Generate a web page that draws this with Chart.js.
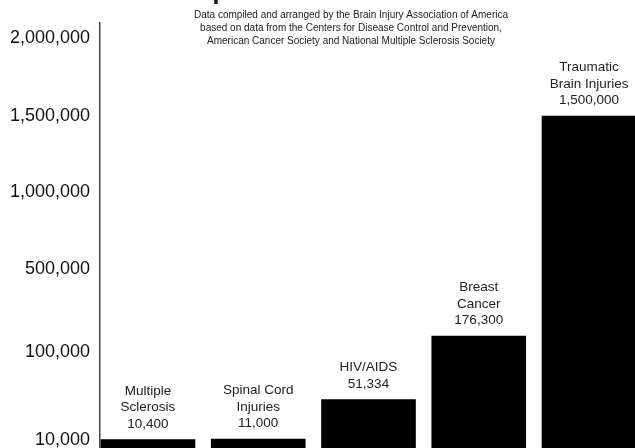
<!DOCTYPE html>
<html>
<head>
<meta charset="utf-8">
<script src="https://cdn.jsdelivr.net/npm/chart.js@4/dist/chart.umd.min.js"></script>
<style>
  html, body { margin: 0; padding: 0; background: #ffffff; overflow: hidden; }
  canvas { display: block; }
</style>
</head>
<body>
<canvas id="c" width="635" height="448"></canvas>
<script>
// ---- data ----
const titleText = "Comparison of Annual Incidence";
const subtitleLines = [
  "Data compiled and arranged by the Brain Injury Association of America",
  "based on data from the Centers for Disease Control and Prevention,",
  "American Cancer Society and National Multiple Sclerosis Society"
];
const categories = [
  ["Multiple", "Sclerosis"],
  ["Spinal Cord", "Injuries"],
  ["HIV/AIDS"],
  ["Breast", "Cancer"],
  ["Traumatic", "Brain Injuries"]
];
const values = [10400, 11000, 51334, 176300, 1500000];
const tickValues = [10000, 100000, 500000, 1000000, 1500000, 2000000];
const tickLabels = ["10,000", "100,000", "500,000", "1,000,000", "1,500,000", "2,000,000"];

const FONT = "'Liberation Sans', Arial, Helvetica, sans-serif";

// ---- piecewise y scale: ticks spaced as in the original graphic ----
class PiecewiseScale extends Chart.LinearScale {
  determineDataLimits() {
    const a = this._anchors();
    this.min = a[0];
    this.max = a[a.length - 1];
  }
  _anchors() { return [0].concat(tickValues); }
  _spans() { return this.options.spans; }
  buildTicks() {
    return tickValues.map(v => ({ value: v }));
  }
  _decimal(value) {
    const a = this._anchors(), w = this._spans();
    const total = w.reduce((s, x) => s + x, 0);
    let acc = 0;
    if (value <= a[0]) return 0;
    for (let i = 0; i < a.length - 1; i++) {
      if (value <= a[i + 1]) {
        return (acc + w[i] * (value - a[i]) / (a[i + 1] - a[i])) / total;
      }
      acc += w[i];
    }
    return acc / total;
  }
  getPixelForValue(value) {
    return this.getPixelForDecimal(this._decimal(value));
  }
  getValueForPixel(pixel) {
    const a = this._anchors(), w = this._spans();
    const total = w.reduce((s, x) => s + x, 0);
    const d = this.getDecimalForPixel(pixel) * total;
    let acc = 0;
    for (let i = 0; i < a.length - 1; i++) {
      if (d <= acc + w[i]) return a[i] + (d - acc) / w[i] * (a[i + 1] - a[i]);
      acc += w[i];
    }
    return a[a.length - 1];
  }
}
PiecewiseScale.id = 'piecewise';
PiecewiseScale.defaults = {};
Chart.register(PiecewiseScale);

// ---- text plugins ----
const headerPlugin = {
  id: 'header',
  afterDraw(chart) {
    const ctx = chart.ctx;
    ctx.save();
    ctx.fillStyle = '#111';
    ctx.textAlign = 'center';
    ctx.textBaseline = 'alphabetic';
    ctx.font = "bold 25px " + FONT;
    ctx.fillText(titleText, 352, -1);
    ctx.fillStyle = '#222';
    ctx.font = "10px " + FONT;
    ctx.textBaseline = 'middle';
    subtitleLines.forEach((line, i) => ctx.fillText(line, 351, 15 + i * 13));
    ctx.restore();
  }
};

const barLabelPlugin = {
  id: 'barLabels',
  afterDatasetsDraw(chart) {
    const ctx = chart.ctx;
    const meta = chart.getDatasetMeta(0);
    ctx.save();
    ctx.fillStyle = '#222';
    ctx.textAlign = 'center';
    ctx.textBaseline = 'middle';
    ctx.font = "13.5px " + FONT;
    meta.data.forEach((bar, i) => {
      const lines = categories[i].concat([values[i].toLocaleString('en-US')]);
      const lh = 16.5;
      const baseY = bar.y - 15.5;
      const x = bar.x;
      lines.forEach((t, j) => {
        const y = baseY - (lines.length - 1 - j) * lh;
        ctx.fillText(t, x, y);
      });
    });
    ctx.restore();
  }
};

new Chart(document.getElementById('c'), {
  type: 'bar',
  data: {
    datasets: [{
      data: values.map((v, i) => ({ x: i, y: v })),
      backgroundColor: '#000000',
      borderWidth: 0,
      barThickness: 94
    }]
  },
  options: {
    responsive: false,
    animation: false,
    layout: { padding: { top: 23, left: 0, right: 0, bottom: 0 } },
    plugins: {
      legend: { display: false },
      title: { display: false },
      tooltip: { enabled: false }
    },
    scales: {
      x: {
        type: 'linear',
        display: false,
        offset: false,
        grid: { offset: false },
        min: -0.435,
        max: 4.417
      },
      y: {
        type: 'piecewise',
        spans: [8, 88, 83, 77, 76, 78, 15],
        afterFit(scale) {
          scale.width = 100;
          scale.paddingTop = 0;
          scale.paddingBottom = 0;
        },
        grid: { display: false, drawTicks: false },
        border: { display: true, color: '#444', width: 1.5 },
        ticks: {
          autoSkip: false,
          padding: 10,
          color: '#111',
          font: { family: FONT, size: 18 },
          callback: (v, i) => tickLabels[i]
        }
      }
    }
  },
  plugins: [headerPlugin, barLabelPlugin]
});
</script>
</body>
</html>
